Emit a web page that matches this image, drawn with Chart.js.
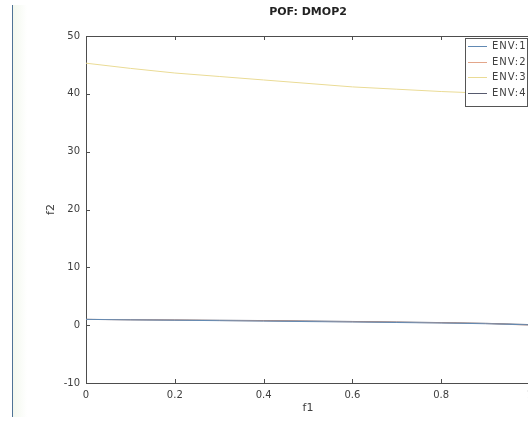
<!DOCTYPE html>
<html>
<head>
<meta charset="utf-8">
<script src="https://cdn.jsdelivr.net/npm/chart.js@4"></script>
<style>
  html, body { margin: 0; padding: 0; background: #fff; overflow: hidden; width: 528px; height: 422px; }
  #wrap { position: relative; width: 528px; height: 422px; overflow: hidden; }
  #edge { position: absolute; left: 12px; top: 5px; width: 1px; height: 412px; background: #4f7396; }
  #glow { position: absolute; left: 13px; top: 5px; width: 14px; height: 412px;
          background: linear-gradient(to right, #f3f8ee, #ffffff); }
  canvas { position: absolute; left: 0; top: 0; }
</style>
</head>
<body>
<div id="wrap">
  <div id="glow"></div>
  <div id="edge"></div>
  <canvas id="pofChart" width="560" height="422"></canvas>
</div>
<script>
// f1 sample points and f2 values
const f1Values = [0, 0.1, 0.2, 0.3, 0.4, 0.5, 0.6, 0.7, 0.8, 0.9, 1.0];
const env1 = [1.0, 0.92, 0.85, 0.78, 0.70, 0.62, 0.55, 0.46, 0.37, 0.25, 0.05];
const env2 = [1.0, 0.93, 0.87, 0.80, 0.74, 0.66, 0.58, 0.50, 0.40, 0.28, 0.0];
const env3 = [45.3, 44.4, 43.6, 43.0, 42.4, 41.8, 41.2, 40.8, 40.4, 40.1, 39.8];
const env4 = [1.0, 0.95, 0.90, 0.85, 0.80, 0.72, 0.64, 0.55, 0.45, 0.32, 0.1];
const seriesNames = ['ENV:1', 'ENV:2', 'ENV:3', 'ENV:4'];
const xTicks = [0, 0.2, 0.4, 0.6, 0.8, 1];
const yTicks = [-10, 0, 10, 20, 30, 40, 50];

const colors = ['#6189b3', '#e3a68a', '#eadb95', '#565a6e'];
const textColor = '#404040';
const axisColor = '#4d4d4d';
const fontFamily = '"DejaVu Sans", Verdana, sans-serif';

const toPoints = (ys) => f1Values.map((x, i) => ({ x: x, y: ys[i] }));

// MATLAB style box: top edge plus inward tick marks
const boxPlugin = {
  id: 'boxFrame',
  afterDatasetsDraw(chart) {
    const { ctx, chartArea: a, scales: { x, y } } = chart;
    ctx.save();
    ctx.strokeStyle = axisColor;
    ctx.lineWidth = 1;
    ctx.beginPath();
    ctx.moveTo(a.left, Math.round(a.top) + 0.5);
    ctx.lineTo(a.right, Math.round(a.top) + 0.5);
    xTicks.forEach(v => {
      const px = Math.round(x.getPixelForValue(v)) + 0.5;
      ctx.moveTo(px, a.bottom); ctx.lineTo(px, a.bottom - 4);
      ctx.moveTo(px, a.top); ctx.lineTo(px, a.top + 4);
    });
    yTicks.forEach(v => {
      const py = Math.round(y.getPixelForValue(v)) + 0.5;
      ctx.moveTo(a.left, py); ctx.lineTo(a.left + 4, py);
    });
    ctx.stroke();
    ctx.restore();
  },
  afterDraw(chart) {
    // legend box inside the upper right corner of the axes
    const { ctx, chartArea: a } = chart;
    const boxRight = a.right - 3;
    const boxLeft = boxRight - 62;
    const boxTop = a.top + 2;
    const rowH = 15.5;
    const boxBottom = boxTop + 8 + rowH * 4 - 2;
    ctx.save();
    ctx.fillStyle = '#ffffff';
    ctx.fillRect(boxLeft, boxTop, boxRight - boxLeft, boxBottom - boxTop);
    ctx.strokeStyle = '#555';
    ctx.lineWidth = 1;
    ctx.strokeRect(Math.round(boxLeft) + 0.5, Math.round(boxTop) + 0.5,
      Math.round(boxRight - boxLeft), Math.round(boxBottom - boxTop));
    ctx.font = '10px ' + fontFamily;
    ctx.letterSpacing = '1px';
    ctx.textBaseline = 'middle';
    ctx.textAlign = 'left';
    chart.data.datasets.forEach((ds, i) => {
      const cy = Math.round(boxTop + 8 + rowH * i) + 0.5;
      ctx.strokeStyle = ds.borderColor;
      ctx.beginPath();
      ctx.moveTo(boxLeft + 3, cy);
      ctx.lineTo(boxLeft + 22, cy);
      ctx.stroke();
      ctx.fillStyle = textColor;
      ctx.fillText(ds.label, boxLeft + 27, cy);
    });
    ctx.restore();
  }
};

const ctx = document.getElementById('pofChart').getContext('2d');
new Chart(ctx, {
  type: 'line',
  data: {
    datasets: [env1, env2, env3, env4].map((ys, i) => ({
      label: seriesNames[i],
      data: toPoints(ys),
      borderColor: colors[i],
      borderWidth: 1,
      pointRadius: 0,
      fill: false,
      tension: 0
    }))
  },
  options: {
    responsive: false,
    animation: false,
    layout: { padding: { left: 0, right: 30, top: 0, bottom: 0 } },
    plugins: {
      legend: { display: false },
      tooltip: { enabled: false },
      title: {
        display: true,
        fullSize: false,
        text: 'POF: DMOP2',
        color: '#222',
        font: { family: fontFamily, size: 11, weight: 'bold', lineHeight: 1.2 },
        padding: { top: 6, bottom: 16.8 }
      }
    },
    scales: {
      x: {
        type: 'linear',
        min: 0,
        max: 1,
        afterBuildTicks: (s) => { s.ticks = xTicks.map(v => ({ value: v })); },
        afterFit: (s) => { s.height = 39; },
        grid: { display: false, drawTicks: false },
        border: { display: true, color: axisColor, width: 1 },
        ticks: {
          padding: 6,
          color: textColor,
          font: { family: fontFamily, size: 10 },
          callback: (v) => String(v)
        },
        title: {
          display: true,
          text: 'f1',
          color: textColor,
          font: { family: fontFamily, size: 11, lineHeight: 1.2 },
          padding: { top: 0, bottom: 7 }
        }
      },
      y: {
        type: 'linear',
        min: -10,
        max: 50,
        afterBuildTicks: (s) => { s.ticks = yTicks.map(v => ({ value: v })); },
        afterFit: (s) => { s.width = 86; },
        grid: { display: false, drawTicks: false },
        border: { display: true, color: axisColor, width: 1 },
        ticks: {
          padding: 6,
          color: textColor,
          font: { family: fontFamily, size: 10 },
          callback: (v) => String(v)
        },
        title: {
          display: true,
          text: 'f2',
          color: textColor,
          font: { family: fontFamily, size: 11, lineHeight: 1.2 },
          padding: { top: 45, bottom: 0 }
        }
      }
    }
  },
  plugins: [boxPlugin]
});
</script>
</body>
</html>
